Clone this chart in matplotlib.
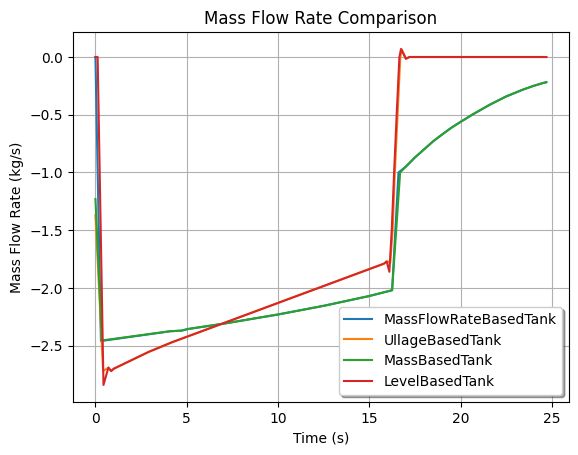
import matplotlib
matplotlib.use("Agg")
import matplotlib.pyplot as plt

# Mass-based tank (green)
t_mass = [0.0, 0.35, 4.1, 4.7, 5.1, 7.0, 10.0, 12.5, 15.0, 16.25, 16.69,
          17.0, 17.5, 18.0, 18.5, 19.0, 19.5, 20.0, 20.67, 21.58, 22.48, 23.39, 24.0, 24.48, 24.7]
v_mass = [-1.23, -2.455, -2.375, -2.37, -2.355, -2.31, -2.23, -2.155, -2.07, -2.02, -1.0,
          -0.95, -0.87, -0.80, -0.73, -0.67, -0.612, -0.562, -0.497, -0.415, -0.343, -0.284, -0.25, -0.227, -0.218]

# Mass-flow-rate-based tank (blue)
t_mfr = [0.0, 0.3, 4.1, 4.7, 5.1, 7.0, 10.0, 12.5, 15.0, 16.25, 16.6,
         17.0, 17.5, 18.0, 18.5, 19.0, 19.5, 20.0, 20.67, 21.58, 22.48, 23.39, 24.0, 24.48, 24.7]
v_mfr = [0.0, -2.46, -2.375, -2.37, -2.355, -2.31, -2.23, -2.155, -2.07, -2.02, -1.0,
         -0.95, -0.87, -0.80, -0.73, -0.67, -0.612, -0.562, -0.497, -0.415, -0.343, -0.284, -0.25, -0.227, -0.218]

# Level-based tank (red)
t_level = [0.0, 0.12, 0.44, 0.71, 0.86, 1.0, 2.9, 4.2, 6.85, 10.0,
           15.8, 15.95, 16.1, 16.23, 16.36, 16.5, 16.65, 16.74, 17.0, 17.2, 24.7]
v_level = [0.0, 0.0, -2.84, -2.69, -2.72, -2.70, -2.555, -2.47, -2.315, -2.13,
           -1.79, -1.77, -1.86, -1.5, -1.0, -0.5, 0.0, 0.07, -0.015, 0.0, 0.0]

# Ullage-based tank (orange)
t_ullage = [0.0, 0.42, 0.71, 0.86, 1.0, 2.9, 4.2, 6.85, 10.0,
            15.8, 16.0, 16.15, 16.28, 16.4, 16.55, 16.7, 16.78, 17.02, 17.2, 24.7]
v_ullage = [-1.37, -2.72, -2.69, -2.72, -2.70, -2.555, -2.47, -2.315, -2.13,
            -1.79, -1.77, -1.78, -1.5, -1.0, -0.5, 0.0, 0.065, -0.015, 0.0, 0.0]

fig, ax = plt.subplots(figsize=(6.4, 4.8), dpi=100)
ax.plot(t_mfr, v_mfr, label="MassFlowRateBasedTank")
ax.plot(t_ullage, v_ullage, label="UllageBasedTank")
ax.plot(t_mass, v_mass, label="MassBasedTank")
ax.plot(t_level, v_level, label="LevelBasedTank")
ax.set_title("Mass Flow Rate Comparison")
ax.set_xlabel("Time (s)")
ax.set_ylabel("Mass Flow Rate (kg/s)")
ax.grid(True)
ax.legend(loc="lower right", shadow=True, fancybox=True)
fig.savefig("out.png", bbox_inches="tight")
